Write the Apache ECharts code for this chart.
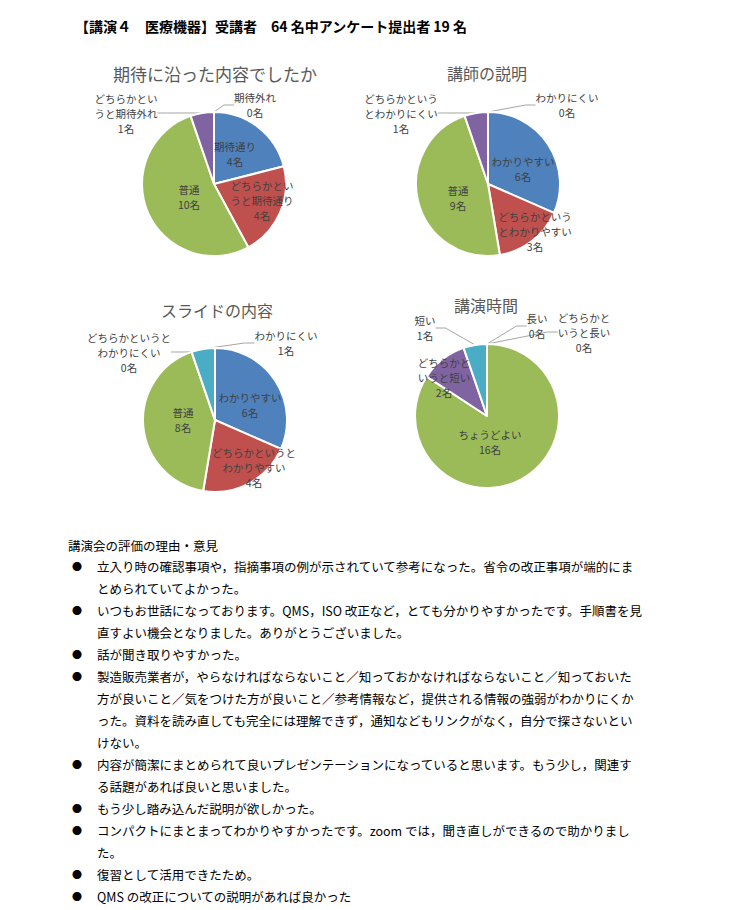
<!DOCTYPE html>
<html>
<head>
<meta charset="utf-8">
<script src="https://cdn.jsdelivr.net/npm/echarts@6/dist/echarts.min.js"></script>
<style>html,body{margin:0;padding:0;background:#fff}#c{width:743px;height:910px}</style>
</head>
<body>
<div id="c"></div>
<script>
// ---------- data ----------
const headerText = '【講演４　医療機器】受講者　64 名中アンケート提出者 19 名';
const pieTitles = ['期待に沿った内容でしたか', '講師の説明', 'スライドの内容', '講演時間'];

const pie1Categories = ['期待通り', 'どちらかというと期待通り', '普通', 'どちらかというと期待外れ', '期待外れ'];
const pie1Labels = ['期待通り', 'どちらかとい\nうと期待通り', '普通', 'どちらかとい\nうと期待外れ', '期待外れ'];
const pie1Values = [4, 4, 10, 1, 0];

const pie2Categories = ['わかりやすい', 'どちらかというとわかりやすい', '普通', 'どちらかというとわかりにくい', 'わかりにくい'];
const pie2Labels = ['わかりやすい', 'どちらかという\nとわかりやすい', '普通', 'どちらかという\nとわかりにくい', 'わかりにくい'];
const pie2Values = [6, 3, 9, 1, 0];

const pie3Categories = ['わかりやすい', 'どちらかというとわかりやすい', '普通', 'どちらかというとわかりにくい', 'わかりにくい'];
const pie3Labels = ['わかりやすい', 'どちらかというと\nわかりやすい', '普通', 'どちらかというと\nわかりにくい', 'わかりにくい'];
const pie3Values = [6, 4, 8, 0, 1];

const pie4Categories = ['長い', 'どちらかというと長い', 'ちょうどよい', 'どちらかというと短い', '短い'];
const pie4Labels = ['長い', 'どちらかと\nいうと長い', 'ちょうどよい', 'どちらかと\nいうと短い', '短い'];
const pie4Values = [0, 0, 16, 2, 1];

const commentHeading = '講演会の評価の理由・意見';
const comments = [
  ['立入り時の確認事項や，指摘事項の例が示されていて参考になった。省令の改正事項が端的にま', 'とめられていてよかった。'],
  ['いつもお世話になっております。QMS，ISO 改正など，とても分かりやすかったです。手順書を見', '直すよい機会となりました。ありがとうございました。'],
  ['話が聞き取りやすかった。'],
  ['製造販売業者が，やらなければならないこと／知っておかなければならないこと／知っておいた', '方が良いこと／気をつけた方が良いこと／参考情報など，提供される情報の強弱がわかりにくか', 'った。資料を読み直しても完全には理解できず，通知などもリンクがなく，自分で探さないとい', 'けない。'],
  ['内容が簡潔にまとめられて良いプレゼンテーションになっていると思います。もう少し，関連す', 'る話題があれば良いと思いました。'],
  ['もう少し踏み込んだ説明が欲しかった。'],
  ['コンパクトにまとまってわかりやすかったです。zoom では，聞き直しができるので助かりまし', 'た。'],
  ['復習として活用できたため。'],
  ['QMS の改正についての説明があれば良かった']
];

// ---------- layout / style ----------
const FONT = '"Noto Sans CJK JP", "Noto Sans", sans-serif';
const colors = ['#4F81BD', '#C0504D', '#9BBB59', '#8064A2', '#4BACC6'];
const centers = [[214, 184], [488, 184], [215, 420], [487, 416]];
const radius = 72;
const titlePos = [[215, 73], [487, 73], [217, 310], [486, 305]];
const titleSizes = [17, 16, 16, 16];
const labelOffsets = [
  [[21, -30], [48, 16], [-25, 13], [-88, -71], [41, -79]],
  [[35, -15], [47, 47], [-30, 14], [-87, -71], [79, -79]],
  [[35, -15], [39, 47], [-32, 0], [-86, -68], [71, -77]],
  [[50, -90], [97, -84], [3, 26], [-43, -39], [-62, -88]]
];
const leaderLines = [
  [false, false, false, true, true],
  [false, false, false, true, true],
  [false, false, false, true, true],
  [true, true, false, false, true]
];

const pies = [
  [pie1Categories, pie1Labels, pie1Values],
  [pie2Categories, pie2Labels, pie2Values],
  [pie3Categories, pie3Labels, pie3Values],
  [pie4Categories, pie4Labels, pie4Values]
];

const series = pies.map(function (p, s) {
  return {
    type: 'pie',
    center: centers[s],
    radius: radius,
    startAngle: 90,
    clockwise: true,
    avoidLabelOverlap: false,
    stillShowZeroSum: true,
    itemStyle: { borderColor: '#ffffff', borderWidth: 2 },
    label: {
      show: true,
      position: 'outside',
      fontFamily: FONT,
      fontSize: 10.5,
      lineHeight: 15,
      color: '#404040',
      align: 'center'
    },
    labelLine: { show: true, length: 10, length2: 10, lineStyle: { color: '#A6A6A6', width: 1 } },
    labelLayout: function (params) {
      const off = labelOffsets[s][params.dataIndex];
      return { x: centers[s][0] + off[0], y: centers[s][1] + off[1], align: 'center', verticalAlign: 'middle' };
    },
    data: p[0].map(function (name, i) {
      return {
        name: name,
        value: p[2][i],
        itemStyle: { color: colors[i] },
        label: { formatter: p[1][i] + '\n' + p[2][i] + '名' },
        labelLine: { show: leaderLines[s][i] }
      };
    })
  };
});

const graphics = [];
graphics.push({
  type: 'text', left: 75, top: 19,
  style: { text: headerText, font: 'bold 14px ' + FONT, fill: '#000' }
});
pieTitles.forEach(function (t, i) {
  graphics.push({
    type: 'text', x: titlePos[i][0], y: titlePos[i][1],
    style: { text: t, fontFamily: FONT, fontSize: titleSizes[i], fill: '#595959', align: 'center', verticalAlign: 'middle' }
  });
});
graphics.push({
  type: 'text', x: 68, y: 545,
  style: { text: commentHeading, fontFamily: FONT, fontSize: 12.5, fill: '#000', verticalAlign: 'middle' }
});
let lineIdx = 0;
comments.forEach(function (item) {
  item.forEach(function (line, j) {
    const y = 566 + lineIdx * 22;
    if (j === 0) {
      graphics.push({
        type: 'text', x: 77, y: y,
        style: { text: '●', fontFamily: FONT, fontSize: 10, fill: '#000', align: 'center', verticalAlign: 'middle' }
      });
    }
    graphics.push({
      type: 'text', x: 97, y: y,
      style: { text: line, fontFamily: FONT, fontSize: 12.5, fill: '#000', verticalAlign: 'middle' }
    });
    lineIdx++;
  });
});

const chart = echarts.init(document.getElementById('c'), null, { renderer: 'svg', width: 743, height: 910 });
chart.setOption({
  backgroundColor: '#ffffff',
  animation: false,
  series: series,
  graphic: graphics
});
</script>
</body>
</html>
